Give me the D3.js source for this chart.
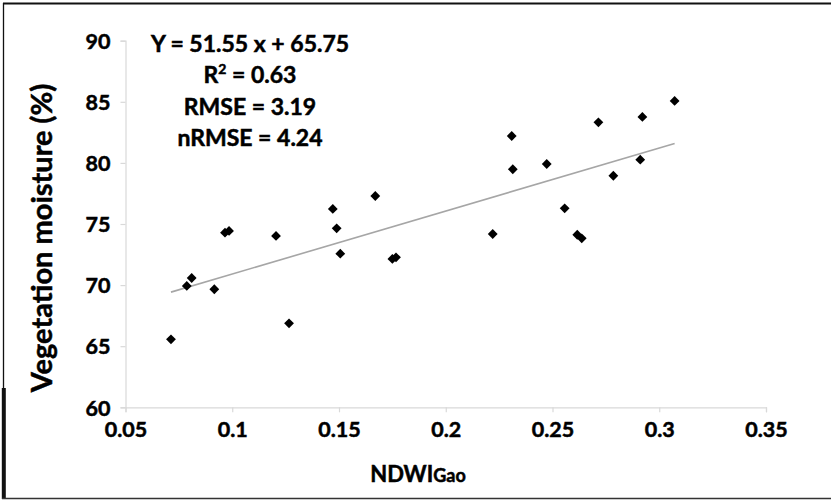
<!DOCTYPE html>
<html>
<head>
<meta charset="utf-8">
<script src="https://cdn.jsdelivr.net/npm/d3@7/dist/d3.min.js"></script>
<style>
  html, body { margin: 0; padding: 0; background: #fff; }
  svg { display: block; font-family: Lato, "Open Sans", sans-serif; font-weight: bold; }
  .heavy { stroke: #000; stroke-width: 0.5px; paint-order: stroke; }
</style>
</head>
<body>
<svg id="chart" width="831" height="501"></svg>
<script>
// NDWI (Gao) index vs. measured vegetation moisture (%)
const ndwi = [0.0713, 0.0787, 0.0810, 0.0916, 0.0966, 0.0985, 0.1205, 0.1266,
              0.1471, 0.1489, 0.1506, 0.1670, 0.1750, 0.1767, 0.2220, 0.2309,
              0.2314, 0.2473, 0.2557, 0.2616, 0.2637, 0.2715, 0.2785, 0.2911,
              0.2921, 0.3072];
const moisture = [65.56, 69.93, 70.58, 69.66, 74.29, 74.43, 74.02, 66.87,
                  76.23, 74.65, 72.57, 77.29, 72.14, 72.27, 74.18, 82.20,
                  79.48, 79.91, 76.28, 74.12, 73.83, 83.32, 78.95, 80.26,
                  83.76, 85.07];

// Linear fit reported for the data
const slope = 51.55;
const intercept = 65.75;
const statsLines = ["Y = 51.55 x + 65.75", "R2", "RMSE = 3.19", "nRMSE = 4.24"];

const xTicks = [0.05, 0.1, 0.15, 0.2, 0.25, 0.3, 0.35];
const yTicks = [60, 65, 70, 75, 80, 85, 90];

const svg = d3.select("#chart");

const x = d3.scaleLinear().domain([0.05, 0.35]).range([125.5, 766]);
const y = d3.scaleLinear().domain([60, 90]).range([407.3, 40.7]);

// frame around the figure (top, left, bottom edges)
const frame = svg.append("g").attr("stroke", "#111").attr("fill", "none");
frame.append("line").attr("x1", 3).attr("x2", 831).attr("y1", 3.5).attr("y2", 3.5).attr("stroke-width", 2);
frame.append("line").attr("x1", 3.5).attr("x2", 3.5).attr("y1", 3).attr("y2", 388).attr("stroke-width", 1.3);
frame.append("line").attr("x1", 3.8).attr("x2", 3.8).attr("y1", 388).attr("y2", 499).attr("stroke-width", 4);
frame.append("line").attr("x1", 2).attr("x2", 831).attr("y1", 498.5).attr("y2", 498.5).attr("stroke-width", 1.5).attr("stroke", "#333");

// axes
const xAxis = d3.axisBottom(x).tickValues(xTicks).tickSize(5).tickPadding(9)
  .tickFormat(d => String(+d.toFixed(2)));
const yAxis = d3.axisLeft(y).tickValues(yTicks).tickSize(5).tickPadding(10)
  .tickFormat(d3.format("d"));

const gx = svg.append("g").attr("transform", `translate(0,${y(60)})`).call(xAxis);
const gy = svg.append("g").attr("transform", `translate(${x(0.05)},0)`).call(yAxis);

[gx, gy].forEach(g => {
  g.select(".domain").attr("stroke", "#d9d9d9").attr("stroke-width", 1.2);
  g.selectAll(".tick line").attr("stroke", "#d9d9d9").attr("stroke-width", 1.2);
  g.selectAll(".tick text")
    .attr("fill", "#000")
    .attr("class", "heavy")
    .style("font-family", "Lato, sans-serif")
    .style("font-weight", "bold")
    .style("font-size", "21.5px");
});
gy.selectAll(".tick text").attr("dy", "0.36em");

// trend line over the observed x range
const [xmin, xmax] = d3.extent(ndwi);
svg.append("line")
  .attr("x1", x(xmin)).attr("y1", y(slope * xmin + intercept))
  .attr("x2", x(xmax)).attr("y2", y(slope * xmax + intercept))
  .attr("stroke", "#a6a6a6").attr("stroke-width", 1.6);

// diamond markers
const diamond = d3.symbol(d3.symbolSquare, 48);
svg.append("g").selectAll("path")
  .data(d3.zip(ndwi, moisture))
  .join("path")
  .attr("d", diamond)
  .attr("transform", d => `translate(${x(d[0])},${y(d[1])}) rotate(45)`)
  .attr("fill", "#000");

// regression statistics block
const stats = svg.append("g").attr("text-anchor", "middle").attr("class", "heavy")
  .style("font-size", "23px").attr("fill", "#000");
const baselines = [52.3, 83.3, 115, 145.5];
statsLines.forEach((s, i) => {
  const t = stats.append("text").attr("x", 250).attr("y", baselines[i]);
  if (s === "R2") {
    t.append("tspan").text("R");
    t.append("tspan").text("2").style("font-size", "14px").attr("dy", -9);
    t.append("tspan").text(" = 0.63").attr("dy", 9);
  } else {
    t.text(s);
  }
});

// axis titles
svg.append("text")
  .attr("transform", "translate(52,238) rotate(-90)")
  .attr("text-anchor", "middle")
  .attr("class", "heavy")
  .style("font-size", "29px")
  .attr("fill", "#000")
  .text("Vegetation moisture (%)");

const xt = svg.append("text")
  .attr("x", 418).attr("y", 481.5)
  .attr("text-anchor", "middle")
  .attr("class", "heavy")
  .attr("fill", "#000");
xt.append("tspan").text("NDWI").style("font-size", "22px");
xt.append("tspan").text("Gao").style("font-size", "18px");
</script>
</body>
</html>
